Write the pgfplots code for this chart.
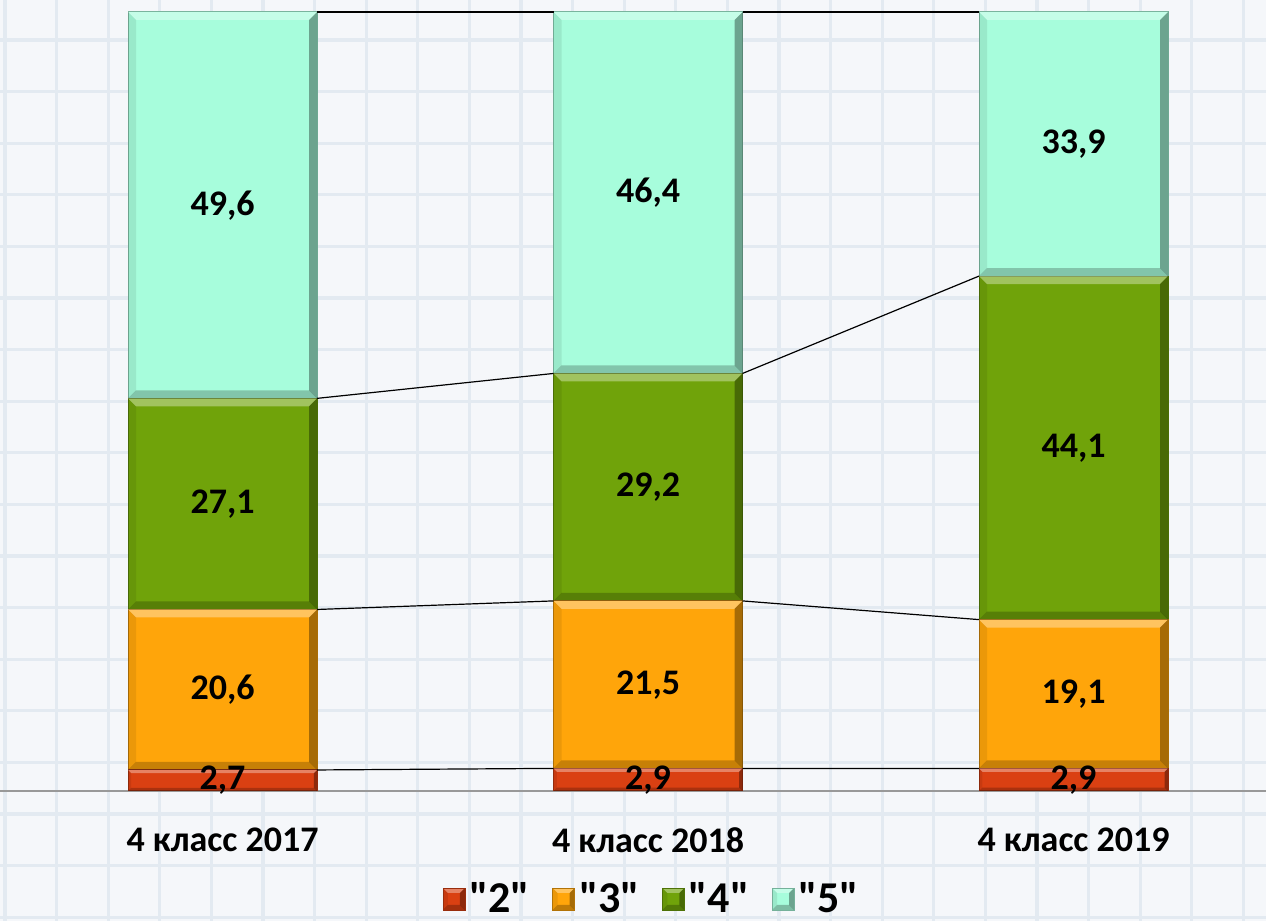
\documentclass[border=0pt]{standalone}
\usepackage{fontspec}
\setmainfont{Carlito}
\usepackage{pgfplots}
\usepackage{pgfplotstable}
\pgfplotsset{compat=1.18}

\definecolor{gtwo}{HTML}{DA4012}
\definecolor{gthree}{HTML}{FFA50A}
\definecolor{gfour}{HTML}{70A30A}
\definecolor{gfive}{HTML}{A7FDDC}
\definecolor{paper}{HTML}{F5F7FA}
\definecolor{paperline}{HTML}{E3EAF1}

% share of marks, per cent
\pgfplotstableread{
x two three four five
0 2.7 20.6 27.1 49.6
1 2.9 21.5 29.2 46.4
2 2.9 19.1 44.1 33.9
}\grades

\newcommand\lblfont{\fontsize{18}{20}\selectfont\bfseries}
\newcommand\q[1]{\textquotedbl#1\textquotedbl}
\newif\ifinbevel

% bevel for the small legend squares
\newcommand\bevelcode[1]{\ifinbevel\else\inbeveltrue
  \coordinate (nw) at (path picture bounding box.north west);
  \coordinate (ne) at (path picture bounding box.north east);
  \coordinate (sw) at (path picture bounding box.south west);
  \coordinate (se) at (path picture bounding box.south east);
  \fill[white, opacity=0.35, draw=none] (nw) -- (ne) -- ([xshift=-#1,yshift=-#1]ne) -- ([xshift=#1,yshift=-#1]nw) -- cycle;
  \fill[black, opacity=0.25, draw=none] (sw) -- (se) -- ([xshift=-#1,yshift=#1]se) -- ([xshift=#1,yshift=#1]sw) -- cycle;
  \fill[black, opacity=0.35, draw=none] (ne) -- (se) -- ([xshift=-#1,yshift=#1]se) -- ([xshift=-#1,yshift=-#1]ne) -- cycle;
  \fill[black, opacity=0.08, draw=none] (nw) -- (sw) -- ([xshift=#1,yshift=#1]sw) -- ([xshift=#1,yshift=-#1]nw) -- cycle;
\fi}
\tikzset{bevel/.style={path picture={\bevelcode{#1}}}, bevel/.default=4pt}

% bevel drawn over one bar segment, centred on the segment
\newcommand\bevquad[9]{\begin{pgfscope}%
  \pgfpathmoveto{\pgfpoint{#1}{#2}}\pgfpathlineto{\pgfpoint{#3}{#4}}%
  \pgfpathlineto{\pgfpoint{#5}{#6}}\pgfpathlineto{\pgfpoint{#7}{#8}}\pgfpathclose
  #9\pgfusepath{fill}\end{pgfscope}}
\pgfdeclareplotmark{barbevel}{%
  \pgfmathsetmacro\hh{\segval*1.9475}%
  \pgfmathsetmacro\bw{min(4,0.3*\hh)}%
  \def\w{47.25}%
  \pgfmathsetmacro\wi{\w-\bw}\pgfmathsetmacro\hi{\hh-\bw}%
  \bevquad{-\w pt}{\hh pt}{\w pt}{\hh pt}{\wi pt}{\hi pt}{-\wi pt}{\hi pt}%
    {\pgfsetfillcolor{white}\pgfsetfillopacity{0.35}}%
  \bevquad{-\w pt}{-\hh pt}{\w pt}{-\hh pt}{\wi pt}{-\hi pt}{-\wi pt}{-\hi pt}%
    {\pgfsetfillcolor{black}\pgfsetfillopacity{0.22}}%
  \bevquad{\w pt}{\hh pt}{\w pt}{-\hh pt}{\wi pt}{-\hi pt}{\wi pt}{\hi pt}%
    {\pgfsetfillcolor{black}\pgfsetfillopacity{0.35}}%
  \bevquad{-\w pt}{\hh pt}{-\w pt}{-\hh pt}{-\wi pt}{-\hi pt}{-\wi pt}{\hi pt}%
    {\pgfsetfillcolor{black}\pgfsetfillopacity{0.08}}%
}

\pgfplotsset{
  common/.style={
    scale only axis, x=212.75pt, y=3.895pt,
    xmin=-0.523, xmax=2.452, ymin=0, ymax=100,
    at={(0pt,65pt)}, anchor=south west,
    clip=false,
  },
  lbl/.style={
    only marks, mark=barbevel, point meta=explicit,
    visualization depends on={\thisrow{#1} \as \segval},
    nodes near coords,
    every node near coord/.append style={font=\lblfont, anchor=center, inner sep=0pt, text=black},
  },
  sline/.style={black, line width=0.6pt, mark=none},
}

\begin{document}
\begin{tikzpicture}
\useasboundingbox (0,0) rectangle (633pt,460.5pt);
\fill[paper] (0,0) rectangle (633pt,460.5pt);
\begin{scope}[paperline, line width=1.6pt]
  \foreach \i in {0,...,24} \draw ({2.5pt+\i*25.8pt},0) -- ++(0,460.5pt);
  \foreach \j in {0,...,17} \draw (0,{440.5pt-\j*25.8pt}) -- ++(633pt,0);
\end{scope}

\begin{axis}[common,
  ybar stacked, bar width=94.5pt,
  hide y axis,
  axis x line=bottom,
  x axis line style={-, draw=gray!80, line width=0.6pt},
  xtick={0,1,2},
  xticklabels={4 класс 2017, 4 класс 2018, 4 класс 2019},
  major tick length=0pt,
  xticklabel style={font=\lblfont, anchor=center, yshift=-24.5pt},
  legend columns=4,
  legend image code/.code={\draw[#1, line width=0.4pt, bevel=2.5pt] (0pt,-5.5pt) rectangle (11pt,5.5pt);},
  legend style={at={(rel axis cs:0.5158,0)}, anchor=center, yshift=-54pt,
    draw=none, fill=none, font=\fontsize{22}{24}\selectfont\bfseries,
    /tikz/every even column/.append style={column sep=9pt}},
]
\addplot[fill=gtwo, draw=gtwo!70!black, line width=0.5pt] table[x=x, y=two]{\grades};
\addlegendentry{\q{2}}
\addplot[fill=gthree, draw=gthree!70!black, line width=0.5pt] table[x=x, y=three]{\grades};
\addlegendentry{\q{3}}
\addplot[fill=gfour, draw=gfour!70!black, line width=0.5pt] table[x=x, y=four]{\grades};
\addlegendentry{\q{4}}
\addplot[fill=gfive, draw=gfive!70!black, line width=0.5pt] table[x=x, y=five]{\grades};
\addlegendentry{\q{5}}
\end{axis}

\begin{axis}[common, hide axis, unbounded coords=jump,
  /pgf/number format/use comma,
  /pgf/number format/fixed,
  /pgf/number format/fixed zerofill,
  /pgf/number format/precision=1,
  /pgf/number format/assume math mode=true,
]
% series lines between neighbouring bars
\addplot[sline] coordinates {(0.2221,2.7) (0.7779,2.9) (1,nan) (1.2221,2.9) (1.7779,2.9)};
\addplot[sline] coordinates {(0.2221,23.3) (0.7779,24.4) (1,nan) (1.2221,24.4) (1.7779,22.0)};
\addplot[sline] coordinates {(0.2221,50.4) (0.7779,53.6) (1,nan) (1.2221,53.6) (1.7779,66.1)};
\addplot[sline] coordinates {(0.2221,100) (0.7779,100) (1,nan) (1.2221,100) (1.7779,100)};
% bevels and value labels, centred on each segment
\addplot[lbl=two] table[x=x, y expr=\thisrow{two}/2, meta=two]{\grades};
\addplot[lbl=three] table[x=x, y expr=\thisrow{two}+\thisrow{three}/2, meta=three]{\grades};
\addplot[lbl=four] table[x=x, y expr=\thisrow{two}+\thisrow{three}+\thisrow{four}/2, meta=four]{\grades};
\addplot[lbl=five] table[x=x, y expr=\thisrow{two}+\thisrow{three}+\thisrow{four}+\thisrow{five}/2, meta=five]{\grades};
\end{axis}
\end{tikzpicture}
\end{document}
